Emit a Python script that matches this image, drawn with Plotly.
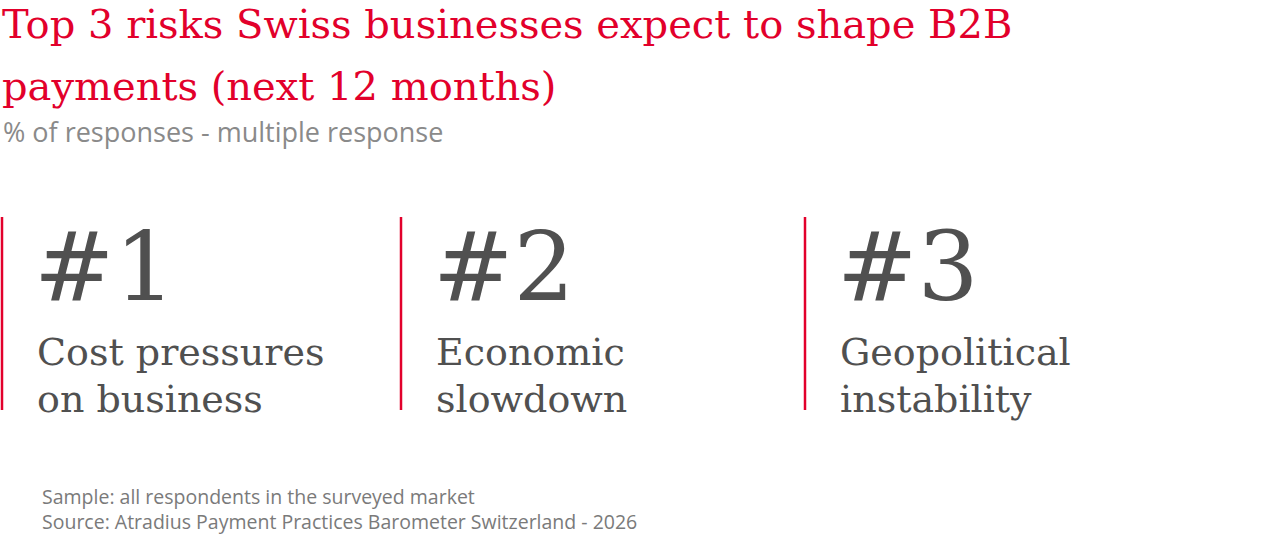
import plotly.graph_objects as go

title_lines = ["Top 3 risks Swiss businesses expect to shape B2B",
               "payments (next 12 months)"]
subtitle = "% of responses - multiple response"
ranks = ["#1", "#2", "#3"]
risks = [["Cost pressures", "on business"],
         ["Economic", "slowdown"],
         ["Geopolitical", "instability"]]
notes = ["Sample: all respondents in the surveyed market",
         "Source: Atradius Payment Practices Barometer Switzerland - 2026"]

RED = "#e2002b"
DARK = "#505050"
W, H = 1280, 556
col_x = [2, 401, 805]

fig = go.Figure()
fig.add_trace(go.Scatter(x=[0, W], y=[0, H], mode="markers",
                         marker=dict(opacity=0), hoverinfo="skip", showlegend=False))

ann = []
for i, line in enumerate(title_lines):
    ann.append(dict(x=1, y=0 + i * 62, text=line, xanchor="left", yanchor="top",
                    borderpad=0,
                    font=dict(family="DejaVu Serif", size=40, color=RED)))
ann.append(dict(x=1, y=131, text=subtitle, xanchor="left", yanchor="middle",
                font=dict(family="Open Sans", size=27, color="#8a8a8a")))

for i, (rank, lines) in enumerate(zip(ranks, risks)):
    x0 = col_x[i]
    fig.add_shape(type="line", x0=x0, x1=x0, y0=217, y1=410,
                  line=dict(color=RED, width=2.5))
    ann.append(dict(x=x0 + 30, y=267, text=rank, xanchor="left", yanchor="middle",
                    font=dict(family="DejaVu Serif", size=96, color=DARK)))
    for j, t in enumerate(lines):
        ann.append(dict(x=x0 + 33, y=352 + j * 47, text=t, xanchor="left", yanchor="middle",
                        font=dict(family="DejaVu Serif", size=38, color=DARK)))

# footer notes as one block so the lines sit tight like the original
ann.append(dict(x=40, y=509, text="<br>".join(notes), xanchor="left", yanchor="middle",
                align="left", font=dict(family="Open Sans", size=19.5, color="#7a7a7a")))

for a in ann:
    a.update(showarrow=False, xref="x", yref="y")

fig.update_layout(width=W, height=H, margin=dict(l=0, r=0, t=0, b=0),
                  paper_bgcolor="white", plot_bgcolor="white",
                  annotations=ann,
                  xaxis=dict(range=[0, W], visible=False, fixedrange=True),
                  yaxis=dict(range=[H, 0], visible=False, fixedrange=True))

fig.write_html("out.html", config={"displayModeBar": False},
               post_script="document.body.style.margin='0';")
